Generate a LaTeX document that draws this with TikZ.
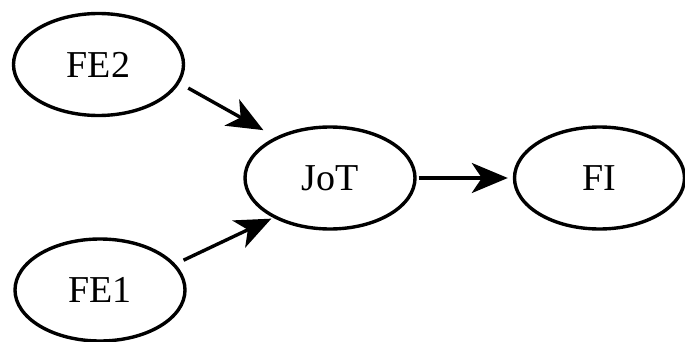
\documentclass[tikz,border=0pt]{standalone}
\usepackage{fontspec}
\setmainfont{Liberation Serif}
\usetikzlibrary{shapes.geometric,arrows.meta}
\begin{document}
\begin{tikzpicture}[x=1pt,y=1pt,
  ell/.style={draw, ellipse, line width=3.4pt, inner sep=0pt,
    minimum width=170pt, minimum height=102pt,
    font=\fontsize{38}{44}\selectfont},
  conn/.style={line width=3.4pt,
    -{Stealth[length=36pt,width=30pt,inset=10pt]}}]
\useasboundingbox (0,0) rectangle (685,341);
\node[ell] (FE2) at (98.5,276.5) {FE2};
\node[ell] (JoT) at (330,163) {JoT};
\node[ell] (FI)  at (599.5,163) {FI};
\node[ell] (FE1) at (100,51) {FE1};
\draw[conn, shorten <=10pt, shorten >=14pt] (FE2.-13) -- (JoT.143);
\draw[conn, shorten <=9pt, shorten >=2pt] (FE1.19) -- (JoT.-145);
\draw[conn, shorten <=2pt, shorten >=5pt] (JoT.east) -- (FI.west);
\end{tikzpicture}
\end{document}
